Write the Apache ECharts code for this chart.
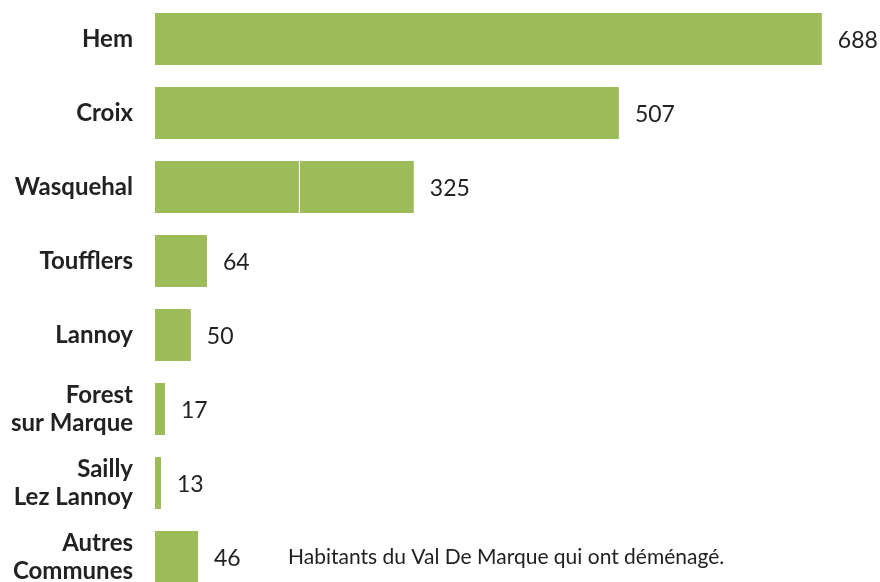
<!DOCTYPE html>
<html>
<head>
<meta charset="utf-8">
<script src="https://cdn.jsdelivr.net/npm/echarts@6/dist/echarts.min.js"></script>
<style>
  html, body { margin: 0; padding: 0; background: #fff; }
  #chart { width: 880px; height: 582px; }
</style>
</head>
<body>
<div id="chart"></div>
<script>
/*données*/
var communes = ['Hem', 'Croix', 'Wasquehal', 'Toufflers', 'Lannoy', 'Forest\nsur Marque', 'Sailly\nLez Lannoy', 'Autres\nCommunes'];
// valeurs affichées
var habitants = [688, 507, 325, 64, 50, 17, 13, 46];
// longueur des barres telle que dessinée dans l'original
var longueurs = [688, 478.6, 267, 53.6, 37, 10.3, 6.2, 44.4];
// trait blanc dans la barre de Wasquehal
var indexCoupure = 2;
var coupure = 148.5;
var trait = 1.03;
var legende = 'Habitants du Val De Marque qui ont déménagé.';

var vert = '#9dbb59';

/*découpage des barres : début, trait blanc, fin*/
var debut = [], blanc = [], fin = [];
for (var i = 0; i < longueurs.length; i++) {
    if (i === indexCoupure) {
        debut.push(coupure);
        blanc.push(trait);
        fin.push(longueurs[i] - coupure - trait);
    } else {
        debut.push(longueurs[i]);
        blanc.push('-');
        fin.push('-');
    }
}

var etiquette = {
    show: true,
    position: 'right',
    distance: 16,
    offset: [0, 2],
    color: '#222222',
    fontSize: 23,
    fontFamily: 'Lato',
    formatter: function (p) {
        if (p.seriesIndex === 0 && p.dataIndex === indexCoupure) return '';
        return habitants[p.dataIndex];
    }
};

var chart = echarts.init(document.getElementById('chart'));
chart.setOption({
    animation: false,
    textStyle: {
        fontFamily: 'Lato'
    },
    grid: {
        left: 155,
        top: 2,
        width: 725,
        height: 592,
        outerBoundsMode: 'none',
        containLabel: false
    },
    xAxis: {
        type: 'value',
        min: 0,
        max: 748,
        show: false
    },
    yAxis: {
        type: 'category',
        inverse: true,
        data: communes,
        axisLine: { show: false },
        axisTick: { show: false },
        splitLine: { show: false },
        axisLabel: {
            margin: 22,
            color: '#222222',
            fontSize: 24,
            fontWeight: 'bold',
            fontFamily: 'Lato',
            lineHeight: 28,
            align: 'right',
            padding: [5, 0, 0, 0]
        }
    },
    series: [
        {
            type: 'bar',
            stack: 'total',
            barWidth: 52,
            data: debut,
            itemStyle: { color: vert },
            label: etiquette
        },
        {
            type: 'bar',
            stack: 'total',
            barWidth: 52,
            data: blanc,
            itemStyle: { color: '#ffffff' }
        },
        {
            type: 'bar',
            stack: 'total',
            barWidth: 52,
            data: fin,
            itemStyle: { color: vert },
            label: etiquette
        }
    ],
    graphic: [
        {
            type: 'text',
            left: 288,
            top: 547,
            style: {
                text: legende,
                fontSize: 21,
                fontFamily: 'Lato',
                fill: '#222222'
            }
        }
    ]
});
</script>
</body>
</html>
